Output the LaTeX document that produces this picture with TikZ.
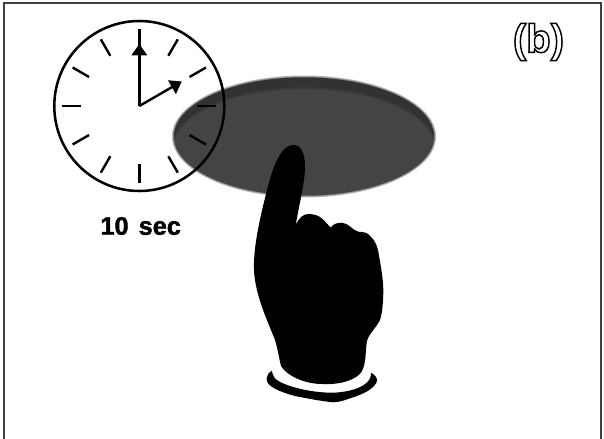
\documentclass[tikz,border=0pt]{standalone}
\usepackage{fontspec}
\setmainfont{Liberation Sans}
\usepackage{xcolor}
\usetikzlibrary{arrows.meta}
\definecolor{qplate}{HTML}{444444}
\definecolor{qrim}{HTML}{303030}
\newcommand{\outlinetext}[2]{\special{pdf:code q #1 Tr #2 w}}
\newcommand{\outlineend}{\special{pdf:code Q}}

\begin{document}
\begin{tikzpicture}[x=0.75pt,y=-0.75pt,
  tick/.style={line width=1.8pt},
  hand/.style={line width=1.8pt,-{Triangle[length=8.5pt,width=11.5pt]}}]
\useasboundingbox (0,0) rectangle (604,439);
\draw[line width=1pt,black!75] (4,439) -- (4,3) -- (601,3) -- (601,439);
% plate with its soft edge
\foreach \d in {2,1}
  \fill[qplate,opacity=0.4] (304,136.5) ellipse ({130+\d} and {59+\d});
\fill[qplate] (304,136.5) ellipse (130 and 59);
\begin{scope}
  \clip (304,136.5) ellipse (130 and 59);
  \fill[qrim,opacity=0.5,even odd rule] (304,136.5) ellipse (130 and 59) (304,148) ellipse (131 and 59);
  \fill[qrim,opacity=0.7,even odd rule] (304,136.5) ellipse (130 and 59) (304,146) ellipse (131 and 59);
\end{scope}
% clock
\coordinate (clockc) at (139.3,106);
\draw[line width=1.9pt] (clockc) circle (85);
\foreach \a in {0,30,...,330}
  \draw[tick] (clockc) ++(\a:58) -- ++(\a:19);
\draw[hand] (clockc) -- ++(-90:62);
\draw[hand] (clockc) -- ++(-30:49);
\node (lbl) at (140.7,226) {\fontsize{19}{22}\selectfont\bfseries\outlinetext{2}{0.3}10\hspace{0.12em} sec\outlineend};
\node (tag) at (538.5,42) {\fontsize{30}{34}\selectfont\bfseries\outlinetext{1}{1.1}(b)\outlineend};
% hand
\fill (293.3,145) .. controls (301,145) and (305,153) .. (305,166.7)
  .. controls (305,182) and (299,205) .. (295.7,225)
  .. controls (299,218) and (303,214) .. (308.3,214)
  .. controls (315,214) and (319,216) .. (321.7,218.3)
  .. controls (325,221) and (328,225) .. (330.7,227.7)
  .. controls (333,224) and (337,222.7) .. (341.7,222.7)
  .. controls (349,223) and (352,230) .. (358.3,231.7)
  .. controls (365,232) and (368,233) .. (370,236)
  .. controls (376,241) and (378,248) .. (379,256)
  .. controls (382,272) and (383.5,283) .. (383.3,293)
  .. controls (383,305) and (382,314) .. (380,320)
  .. controls (376,328) and (369,334) .. (367.3,340)
  .. controls (365,348) and (367,362) .. (361.7,371.7)
  .. controls (356,380) and (340,385) .. (322,384)
  .. controls (305,384) and (287,376) .. (281,366)
  .. controls (279,358) and (278,350) .. (275,340)
  .. controls (268,322) and (255,295) .. (254,270)
  .. controls (253,245) and (262,210) .. (267,190)
  .. controls (272,170) and (280,145) .. (293.3,145) -- cycle;
% cuff
\fill (271.7,370.7) .. controls (273,376) and (275,379) .. (277,380)
  .. controls (285,386) and (310,392.7) .. (331.7,392.7)
  .. controls (345,392.7) and (372,388) .. (371,372.7)
  .. controls (375,375) and (378,378) .. (376.7,382)
  .. controls (373,390) and (362,394) .. (355,396.7)
  .. controls (348,399) and (340,402.3) .. (333,402.3)
  .. controls (320,401) and (305,398) .. (295,396)
  .. controls (280,392) and (265,386) .. (266.7,378)
  .. controls (267,375) and (269,372) .. (271.7,370.7) -- cycle;
\end{tikzpicture}
\end{document}
